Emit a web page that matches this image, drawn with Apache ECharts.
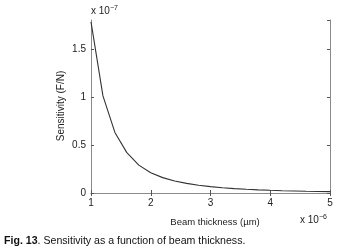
<!DOCTYPE html>
<html><head><meta charset="utf-8">
<script src="https://cdn.jsdelivr.net/npm/echarts@6/dist/echarts.min.js"></script>
<style>html,body{margin:0;padding:0;background:#fff}#c{width:338px;height:249px}</style>
</head><body><div id="c"></div>
<script>
// Beam thickness (x 10^-6 m)
const thickness = [1.0,1.2,1.4,1.6,1.8,2.0,2.2,2.4,2.6,2.8,3.0,3.2,3.4,3.6,3.8,4.0,4.2,4.4,4.6,4.8,5.0];
// Sensitivity (x 10^-7 F/N)
const sensitivity = [1.78,1.01,0.63,0.42,0.29,0.21,0.16,0.125,0.10,0.08,0.066,0.055,0.046,0.039,0.033,0.028,0.024,0.021,0.018,0.016,0.014];
const xTicks = [1,2,3,4,5];
const yTicks = [0,0.5,1,1.5];

const chart = echarts.init(document.getElementById('c'));
const font = 'Liberation Sans, Arial, sans-serif';
const axisCol = '#8a8a8a';
function baseAxis(extra){
  return Object.assign({
    axisLine:{show:true,lineStyle:{color:axisCol,width:1}},
    axisTick:{show:true,inside:true,length:3,lineStyle:{color:'#555'}},
    splitLine:{show:false},
  }, extra);
}
chart.setOption({
  animation:false,
  grid:{left:91,right:8,top:20,bottom:56},
  xAxis:[
    baseAxis({type:'value',min:1,max:5,interval:1,position:'bottom',
      axisLabel:{color:'#222',fontSize:10,fontFamily:font,margin:5,
        formatter:v=>xTicks.includes(v)?String(v):''}}),
    baseAxis({type:'value',min:1,max:5,interval:1,position:'top',axisLabel:{show:false}})
  ],
  yAxis:[
    baseAxis({type:'value',min:0,max:1.8,interval:0.5,position:'left',
      axisLabel:{color:'#222',fontSize:10,fontFamily:font,margin:5,showMaxLabel:false,
        formatter:v=>yTicks.includes(v)?String(v):''}}),
    baseAxis({type:'value',min:0,max:1.8,interval:0.5,position:'right',axisLabel:{show:false}})
  ],
  series:[{type:'line',data:thickness.map((x,i)=>[x,sensitivity[i]]),showSymbol:false,
    lineStyle:{color:'#333',width:1.1},z:3}],
  graphic:[
    {type:'text',left:91,top:5,style:{text:'x 10{s|−7}',font:'10px '+font,fill:'#222',
      rich:{s:{fontSize:7,verticalAlign:'top',padding:[0,0,6,0],fontFamily:font}}}},
    {type:'text',left:300,top:214,style:{text:'x 10{s|−6}',font:'10px '+font,fill:'#222',
      rich:{s:{fontSize:7,verticalAlign:'top',padding:[0,0,6,0],fontFamily:font}}}},
    {type:'text',x:215,y:222,style:{text:'Beam thickness (µm)',font:'9.5px '+font,fill:'#222',align:'center',verticalAlign:'middle'}},
    {type:'text',x:61,y:106,rotation:Math.PI/2,style:{text:'Sensitivity (F/N)',font:'10px '+font,fill:'#222',align:'center',verticalAlign:'middle'}},
    {type:'text',x:4,y:241,style:{text:'{b|Fig. 13}. Sensitivity as a function of beam thickness.',font:'10.6px '+font,fill:'#111',verticalAlign:'middle',
      rich:{b:{fontWeight:'bold',fontSize:10.6,fontFamily:font}}}}
  ]
});
</script></body></html>
